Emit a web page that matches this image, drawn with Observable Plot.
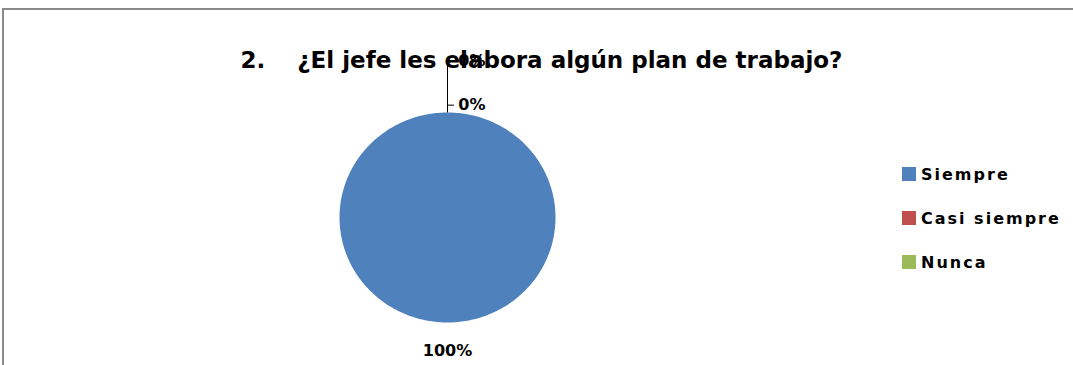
<!DOCTYPE html>
<html>
<head>
<meta charset="utf-8">
<script src="https://cdn.jsdelivr.net/npm/d3@7"></script>
<script src="https://cdn.jsdelivr.net/npm/@observablehq/plot@0.6"></script>
<style>
  html, body { margin: 0; padding: 0; background: #fff; }
  #wrap { position: relative; width: 1073px; height: 365px; overflow: hidden; font-family: "DejaVu Sans", sans-serif; }
  #border { position: absolute; left: 2px; top: 8px; right: -10px; bottom: -10px; border-left: 2px solid #8a8a8a; border-top: 2px solid #8a8a8a; }
  #chart { position: absolute; left: 0; top: 0; }
  #legend { position: absolute; left: 902px; top: 0; font-weight: 700; font-size: 16px; color: #000; letter-spacing: 2px; }
  .item { position: absolute; left: 0; display: flex; align-items: center; height: 20px; white-space: nowrap; }
  .sw { width: 14px; height: 14px; margin-right: 5px; flex: none; }
</style>
</head>
<body>
<div id="wrap">
  <div id="border"></div>
  <div id="chart"></div>
  <div id="legend"></div>
</div>
<script>
const title = "2.    ¿El jefe les elabora algún plan de trabajo?";
const categories = ["Siempre", "Casi siempre", "Nunca"];
const values = [100, 0, 0];
const colors = ["#4f81bd", "#c0504d", "#9bbb59"];

const total = d3.sum(values);
const arcs = d3.pie().sort(null)(values);

// polygon points for each slice (angle 0 at top, clockwise)
const slicePts = [];
arcs.forEach((a, i) => {
  const n = Math.max(2, Math.ceil((a.endAngle - a.startAngle) / (Math.PI / 180)));
  slicePts.push({cat: categories[i], x: 0, y: 0});
  for (let k = 0; k <= n; k++) {
    const t = a.startAngle + (a.endAngle - a.startAngle) * k / n;
    slicePts.push({cat: categories[i], x: Math.sin(t), y: Math.cos(t)});
  }
  slicePts.push({cat: categories[i], x: 0, y: 0});
});

// labels: non-zero slices outside at mid angle; zero slices stacked above the top with a leader
const mainLabels = [];
const zeroLabels = [];
const leaders = [];
let zeroIdx = 0;
arcs.forEach((a, i) => {
  const pct = Math.round(values[i] / total * 100) + "%";
  const mid = (a.startAngle + a.endAngle) / 2;
  if (values[i] > 0) {
    mainLabels.push({text: pct, x: Math.sin(mid) * 1.27, y: Math.cos(mid) * 1.27});
  } else {
    const r = 1.07 + 0.42 * zeroIdx;
    zeroLabels.push({text: pct, x: 0.1, y: r});
    leaders.push({x1: 0, y1: r, x2: 0.06, y2: r});
    zeroIdx++;
  }
});
const leaderTop = 1.07 + 0.42 * (zeroIdx - 1) + 0.04;
if (zeroIdx > 0) leaders.push({x1: 0, y1: 1, x2: 0, y2: leaderTop});

const labelStyle = {fontSize: 16, fontWeight: 700, fill: "#000", fontFamily: "DejaVu Sans", letterSpacing: 1.5};

const chart = Plot.plot({
  width: 1073,
  height: 365,
  margin: 0,
  style: {background: "transparent", overflow: "visible"},
  x: {domain: [-1, 1], range: [339, 555], axis: null},
  y: {domain: [-1, 1], range: [322, 112], axis: null},
  color: {domain: categories, range: colors},
  marks: [
    Plot.line(slicePts, {x: "x", y: "y", z: "cat", fill: "cat", stroke: "none", curve: "linear"}),
    Plot.text([title], {frameAnchor: "top-left", dx: 240, dy: 51, text: d => d, textAnchor: "start",
      fontSize: 23, fontWeight: 700, fill: "#000", fontFamily: "DejaVu Sans"}),
    Plot.link(leaders, {x1: "x1", y1: "y1", x2: "x2", y2: "y2", stroke: "#000", strokeWidth: 1}),
    Plot.text(mainLabels, {x: "x", y: "y", text: "text", textAnchor: "middle", ...labelStyle}),
    Plot.text(zeroLabels, {x: "x", y: "y", text: "text", textAnchor: "start", ...labelStyle})
  ]
});
document.getElementById("chart").appendChild(chart);

const legend = document.getElementById("legend");
const legendTops = [164, 208, 252];
categories.forEach((c, i) => {
  const row = document.createElement("div");
  row.className = "item";
  row.style.top = legendTops[i] + "px";
  row.innerHTML = `<span class="sw" style="background:${colors[i]}"></span><span>${c}</span>`;
  legend.appendChild(row);
});
</script>
</body>
</html>
